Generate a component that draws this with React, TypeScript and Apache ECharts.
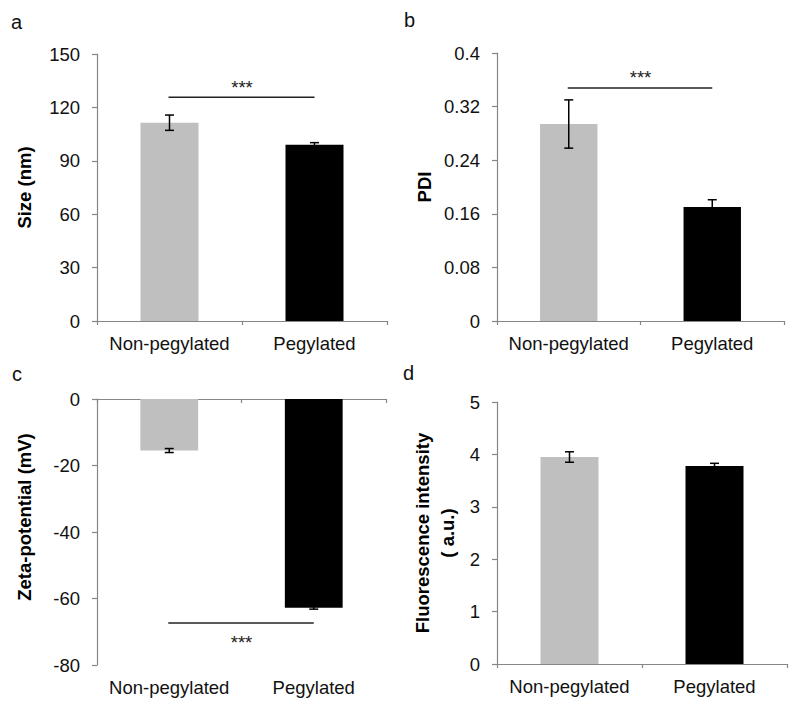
import React, { useEffect, useRef } from 'react';
import * as echarts from 'echarts';

const categories = ['Non-pegylated', 'Pegylated'];
const barColors = ['#bfbfbf', '#000000'];

// Panel a: size (nm)
const sizeMean = [111.4, 99.0];
const sizeErr = [4.3, 1.2];
const sizeSig = [125.7, 133.2]; // [line level, *** level]

// Panel b: PDI
const pdiMean = [0.294, 0.17];
const pdiErr = [0.036, 0.011];
const pdiSig = [0.3477, 0.369];

// Panel c: zeta-potential (mV)
const zetaMean = [-15.5, -62.8];
const zetaErr = [0.6, 0.4];
const zetaSig = [-67.4, -72.0];

// Panel d: fluorescence intensity (a.u.)
const fluoMean = [3.95, 3.78];
const fluoErr = [0.1, 0.05];

const FONT = 'Liberation Sans, Arial, Helvetica, sans-serif';
const AXIS_COLOR = '#868686';
const FS = 18.5;

function yAxisCfg(gridIndex: number, min: number, max: number, interval: number, name: string, nameGap: number, extra: any = {}) {
  return {
    type: 'value',
    gridIndex,
    min,
    max,
    interval,
    name,
    nameLocation: 'middle',
    nameGap,
    nameTextStyle: { fontFamily: FONT, fontSize: FS, fontWeight: 'bold', color: '#000', lineHeight: 25, ...extra },
    axisLine: { show: true, lineStyle: { color: AXIS_COLOR, width: 1.2 } },
    axisTick: { show: true, length: 5, lineStyle: { color: AXIS_COLOR, width: 1.2 } },
    axisLabel: { fontFamily: FONT, fontSize: FS, color: '#111', margin: 17 },
    splitLine: { show: false },
  };
}

function xAxisCfg(gridIndex: number, opts: any = {}) {
  return {
    type: 'category',
    gridIndex,
    data: categories,
    position: 'bottom',
    axisLine: { show: true, onZero: false, lineStyle: { color: AXIS_COLOR, width: 1.2 } },
    axisTick: { show: true, length: 4, lineStyle: { color: AXIS_COLOR, width: 1.2 } },
    axisLabel: { fontFamily: FONT, fontSize: FS, color: '#111', margin: 13, interval: 0 },
    ...opts,
  };
}

function barSeries(xi: number, yi: number, mean: number[]) {
  return {
    type: 'bar',
    xAxisIndex: xi,
    yAxisIndex: yi,
    barWidth: '40%',
    data: mean.map((v, i) => ({ value: v, itemStyle: { color: barColors[i] } })),
  };
}

function errSeries(xi: number, yi: number, mean: number[], err: number[], capHalf: number) {
  return {
    type: 'custom',
    xAxisIndex: xi,
    yAxisIndex: yi,
    z: 10,
    data: mean.map((m, i) => [i, m, m + err[i], m - err[i]]),
    encode: { x: 0, y: [1, 2, 3] },
    renderItem: (_p: any, api: any) => {
      const x = api.value(0);
      const hi = api.coord([x, api.value(2)]);
      const lo = api.coord([x, api.value(3)]);
      const style = { stroke: '#000', lineWidth: 1.5 };
      return {
        type: 'group',
        children: [
          { type: 'line', shape: { x1: hi[0], y1: hi[1], x2: lo[0], y2: lo[1] }, style },
          { type: 'line', shape: { x1: hi[0] - capHalf, y1: hi[1], x2: hi[0] + capHalf, y2: hi[1] }, style },
          { type: 'line', shape: { x1: lo[0] - capHalf, y1: lo[1], x2: lo[0] + capHalf, y2: lo[1] }, style },
        ],
      };
    },
  };
}

function sigSeries(xi: number, yi: number, sig: number[]) {
  return {
    type: 'custom',
    xAxisIndex: xi,
    yAxisIndex: yi,
    z: 10,
    data: [[0, sig[0], sig[1]]],
    encode: { x: 0, y: [1, 2] },
    renderItem: (_p: any, api: any) => {
      const p0 = api.coord([0, api.value(1)]);
      const p1 = api.coord([1, api.value(1)]);
      const t = api.coord([0, api.value(2)]);
      return {
        type: 'group',
        children: [
          { type: 'line', shape: { x1: p0[0] - 1, y1: p0[1], x2: p1[0], y2: p1[1] }, style: { stroke: '#222', lineWidth: 1.5 } },
          {
            type: 'text',
            style: {
              text: '***',
              x: (p0[0] + p1[0]) / 2,
              y: t[1] + 4,
              fill: '#222',
              fontFamily: FONT,
              fontSize: FS,
              align: 'center',
              verticalAlign: 'middle',
            },
          },
        ],
      };
    },
  };
}

const panelLabel = (text: string, left: number, top: number) => ({
  type: 'text',
  left,
  top,
  style: { text, fontFamily: FONT, fontSize: 20, fill: '#111' },
});

export default function App() {
  const ref = useRef<HTMLDivElement>(null);
  useEffect(() => {
    if (!ref.current) return;
    const chart = echarts.init(ref.current, undefined, { renderer: 'svg' });
    const option: any = {
      animation: false,
      backgroundColor: '#fff',
      textStyle: { fontFamily: FONT },
      grid: [
        { left: 97, top: 54, width: 290, height: 267, outerBoundsMode: 'none' },
        { left: 497, top: 53, width: 287, height: 268, outerBoundsMode: 'none' },
        { left: 97, top: 399, width: 289, height: 266, outerBoundsMode: 'none' },
        { left: 497, top: 402, width: 290, height: 262, outerBoundsMode: 'none' },
      ],
      xAxis: [
        xAxisCfg(0),
        xAxisCfg(1),
        xAxisCfg(2, { axisLine: { show: false }, axisTick: { show: false } }),
        xAxisCfg(2, {
          position: 'top',
          axisLabel: { show: false },
          axisTick: { show: true, inside: true, length: 4, lineStyle: { color: AXIS_COLOR, width: 1.2 } },
        }),
        xAxisCfg(3),
      ],
      yAxis: [
        yAxisCfg(0, 0, 150, 30, 'Size (nm)', 60),
        yAxisCfg(1, 0, 0.4, 0.08, 'PDI', 60),
        yAxisCfg(2, -80, 0, 20, 'Zeta-potential (mV)', 60, { padding: [0, 0, 0, 30] }),
        yAxisCfg(3, 0, 5, 1, 'Fluorescence intensity\n( a.u.)', 37),
      ],
      series: [
        barSeries(0, 0, sizeMean),
        errSeries(0, 0, sizeMean, sizeErr, 4.5),
        sigSeries(0, 0, sizeSig),
        barSeries(1, 1, pdiMean),
        errSeries(1, 1, pdiMean, pdiErr, 4.5),
        sigSeries(1, 1, pdiSig),
        barSeries(2, 2, zetaMean),
        errSeries(2, 2, zetaMean, zetaErr, 4.5),
        sigSeries(2, 2, zetaSig),
        barSeries(4, 3, fluoMean),
        errSeries(4, 3, fluoMean, fluoErr, 4.5),
      ],
      graphic: [
        panelLabel('a', 11, 12),
        panelLabel('b', 404, 10),
        panelLabel('c', 12, 364),
        panelLabel('d', 403, 363),
      ],
    };
    chart.setOption(option);
    return () => chart.dispose();
  }, []);
  return (
    <div
      ref={ref}
      style={{ position: 'absolute', left: 0, top: 0, width: 800, height: 712, background: '#fff' }}
    />
  );
}
